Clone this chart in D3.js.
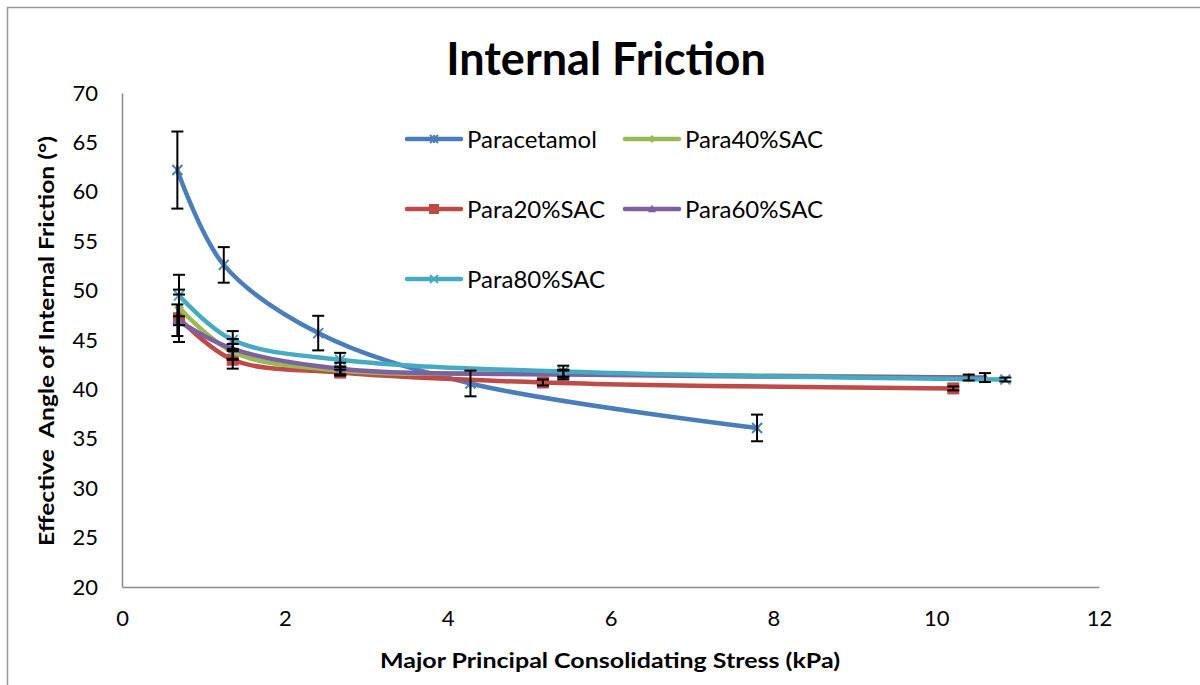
<!DOCTYPE html>
<html>
<head>
<meta charset="utf-8">
<script src="https://cdn.jsdelivr.net/npm/d3@7"></script>
<style>
  body { margin: 0; background: #fff; }
  #chart { width: 1200px; height: 685px; }
  text { font-family: Lato, "Noto Sans", sans-serif; fill: #000; }
</style>
</head>
<body>
<div id="chart"></div>
<script>
// Values
const seriesNames = ["Paracetamol", "Para20%SAC", "Para40%SAC", "Para60%SAC", "Para80%SAC"];
const seriesColors = ["#4a7ebb", "#be4b48", "#98b954", "#7d60a0", "#46aac5"];
const seriesMarkers = ["star", "square", "diamond", "triangle", "cross"];

const paracetamolX = [0.68, 1.25, 2.41, 4.28, 7.8];
const paracetamolY = [62.2, 52.6, 45.7, 40.6, 36.1];
const paracetamolErr = [3.9, 1.8, 1.75, 1.3, 1.35];

const para20X = [0.7, 1.36, 2.68, 5.17, 10.21];
const para20Y = [47.2, 43.0, 41.7, 40.7, 40.1];
const para20Err = [2.4, 0.9, 0.3, 0.3, 0.2];

const para40X = [0.7, 1.36, 2.68, 5.42, 10.4];
const para40Y = [48.3, 43.8, 41.9, 41.6, 41.2];
const para40Err = [1.8, 0.8, 0.4, 0.3, 0.3];

const para60X = [0.68, 1.36, 2.68, 5.42, 10.6];
const para60Y = [47.0, 44.1, 42.1, 41.5, 41.2];
const para60Err = [1.6, 1.0, 0.6, 0.5, 0.45];

const para80X = [0.7, 1.36, 2.68, 5.42, 10.85];
const para80Y = [49.5, 45.0, 43.0, 41.8, 41.0];
const para80Err = [2.1, 0.9, 0.7, 0.6, 0.2];

const xTicks = [0, 2, 4, 6, 8, 10, 12];
const yTicks = [20, 25, 30, 35, 40, 45, 50, 55, 60, 65, 70];

const allX = [paracetamolX, para20X, para40X, para60X, para80X];
const allY = [paracetamolY, para20Y, para40Y, para60Y, para80Y];
const allErr = [paracetamolErr, para20Err, para40Err, para60Err, para80Err];

const series = seriesNames.map((name, i) => ({
  name,
  color: seriesColors[i],
  marker: seriesMarkers[i],
  points: allX[i].map((x, j) => ({ x, y: allY[i][j], err: allErr[i][j] }))
}));

const width = 1200, height = 685;
const margin = { top: 93, right: 101, bottom: 98, left: 122 };
const innerWidth = width - margin.left - margin.right;
const innerHeight = height - margin.top - margin.bottom;

const svg = d3.select("#chart").append("svg")
  .attr("width", width)
  .attr("height", height);

// outer chart border (only top and left edges are in view)
svg.append("path")
  .attr("d", `M7.5,${height}L7.5,7.5L${width},7.5`)
  .attr("fill", "none")
  .attr("stroke", "#9a9a9a")
  .attr("stroke-width", 1.5);

const chart = svg.append("g")
  .attr("transform", `translate(${margin.left},${margin.top})`);

const x = d3.scaleLinear().domain([0, 12]).range([0, innerWidth]);
const y = d3.scaleLinear().domain([20, 70]).range([innerHeight, 0]);

chart.append("g")
  .attr("transform", `translate(0,${innerHeight})`)
  .call(d3.axisBottom(x).tickValues(xTicks).tickSize(0).tickPadding(23).tickFormat(d3.format("d")))
  .call((g) => g.select(".domain").attr("stroke", "#8c8c8c").attr("stroke-width", 1.5))
  .call((g) => g.selectAll("text")
    .style("font-size", "22px")
    .style("font-family", "Lato, 'Noto Sans', sans-serif"));

chart.append("g")
  .call(d3.axisLeft(y).tickValues(yTicks).tickSize(0).tickPadding(24).tickFormat(d3.format("d")))
  .call((g) => g.select(".domain").attr("stroke", "#8c8c8c").attr("stroke-width", 1.5))
  .call((g) => g.selectAll("text")
    .style("font-size", "22px")
    .style("font-family", "Lato, 'Noto Sans', sans-serif"));

svg.append("text")
  .attr("x", 606)
  .attr("y", 75)
  .attr("text-anchor", "middle")
  .attr("font-size", 45)
  .attr("font-weight", 700)
  .text("Internal Friction");

svg.append("text")
  .attr("x", 610)
  .attr("y", 668)
  .attr("text-anchor", "middle")
  .attr("font-size", 21)
  .attr("font-weight", 700)
  .attr("textLength", 460)
  .attr("lengthAdjust", "spacingAndGlyphs")
  .text("Major Principal Consolidating Stress (kPa)");

svg.append("text")
  .attr("transform", "translate(54,341) rotate(-90)")
  .attr("text-anchor", "middle")
  .attr("font-size", 21)
  .attr("font-weight", 700)
  .attr("textLength", 410)
  .attr("lengthAdjust", "spacingAndGlyphs")
  .style("white-space", "pre")
  .text("Effective  Angle of Internal Friction (°)");

const line = d3.line()
  .x((d) => x(d.x))
  .y((d) => y(d.y))
  .curve(d3.curveCatmullRom.alpha(0.5));

function drawMarker(g, type, color, size) {
  const s = size;
  if (type === "square") {
    g.append("rect").attr("x", -s).attr("y", -s).attr("width", 2 * s).attr("height", 2 * s).attr("fill", color);
  } else if (type === "diamond") {
    g.append("path").attr("d", `M0,${-s}L${s},0L0,${s}L${-s},0Z`).attr("fill", color);
  } else if (type === "triangle") {
    g.append("path").attr("d", `M0,${-s * 1.1}L${s},${s * 0.8}L${-s},${s * 0.8}Z`).attr("fill", color);
  } else {
    g.append("path")
      .attr("d", `M${-s},${-s}L${s},${s}M${-s},${s}L${s},${-s}` + (type === "star" ? `M0,${-s}L0,${s}` : ""))
      .attr("stroke", color).attr("stroke-width", 2).attr("fill", "none");
  }
}

series.forEach((s) => {
  chart.append("path")
    .datum(s.points)
    .attr("fill", "none")
    .attr("stroke", s.color)
    .attr("stroke-width", 4.5)
    .attr("stroke-linecap", "round")
    .attr("d", line);

  s.points.forEach((p) => {
    const g = chart.append("g").attr("transform", `translate(${x(p.x)},${y(p.y)})`);
    drawMarker(g, s.marker, s.color, s.marker === "square" ? 6 : 5);
  });
});

// error bars
series.forEach((s) => {
  const bars = chart.append("g").attr("stroke", "#000").attr("stroke-width", 2);
  s.points.forEach((p) => {
    const cx = x(p.x);
    bars.append("line").attr("x1", cx).attr("x2", cx).attr("y1", y(p.y + p.err)).attr("y2", y(p.y - p.err));
    bars.append("line").attr("x1", cx - 6).attr("x2", cx + 6).attr("y1", y(p.y + p.err)).attr("y2", y(p.y + p.err));
    bars.append("line").attr("x1", cx - 6).attr("x2", cx + 6).attr("y1", y(p.y - p.err)).attr("y2", y(p.y - p.err));
  });
});

// legend
const legendPos = [
  { x: 407, y: 139 }, { x: 407, y: 209 }, { x: 625, y: 139 }, { x: 625, y: 209 }, { x: 407, y: 279 }
];
series.forEach((s, i) => {
  const pos = legendPos[i];
  const g = svg.append("g").attr("transform", `translate(${pos.x},${pos.y})`);
  g.append("line").attr("x1", 0).attr("x2", 54).attr("y1", 0).attr("y2", 0)
    .attr("stroke", s.color).attr("stroke-width", 4.5).attr("stroke-linecap", "round");
  const m = g.append("g").attr("transform", "translate(27,0)");
  drawMarker(m, s.marker, s.color, s.marker === "square" ? 5 : 4);
  g.append("text")
    .attr("x", 60)
    .attr("y", 8.5)
    .attr("font-size", 24)
    .text(s.name);
});
</script>
</body>
</html>
